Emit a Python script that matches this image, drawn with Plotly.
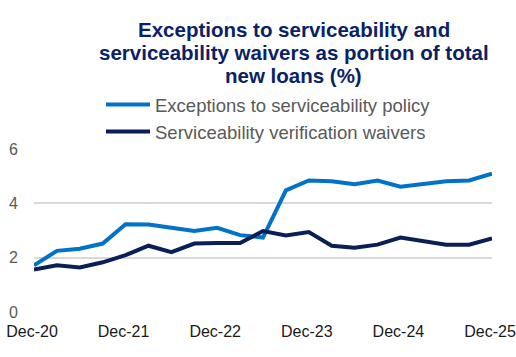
import plotly.graph_objects as go

quarters = [
    "Dec-20", "Mar-21", "Jun-21", "Sep-21", "Dec-21", "Mar-22", "Jun-22", "Sep-22",
    "Dec-22", "Mar-23", "Jun-23", "Sep-23", "Dec-23", "Mar-24", "Jun-24", "Sep-24",
    "Dec-24", "Mar-25", "Jun-25", "Sep-25", "Dec-25",
]
exceptions = [1.72, 2.25, 2.33, 2.52, 3.23, 3.22, 3.10, 2.98, 3.10, 2.83, 2.74,
              4.48, 4.84, 4.81, 4.70, 4.84, 4.61, 4.70, 4.81, 4.84, 5.09]
waivers = [1.56, 1.72, 1.64, 1.83, 2.09, 2.44, 2.20, 2.52, 2.54, 2.54, 2.98,
           2.82, 2.94, 2.44, 2.37, 2.48, 2.74, 2.61, 2.48, 2.48, 2.71]
tick_labels = ["Dec-20", "Dec-21", "Dec-22", "Dec-23", "Dec-24", "Dec-25"]
y_ticks = [0, 2, 4, 6]
title_lines = [
    "Exceptions to serviceability and",
    "serviceability waivers as portion of total",
    "new loans (%)",
]

FONT = "Liberation Sans, Arial, sans-serif"
W, H = 516, 357
ML, MR, MT, MB = 34, 24, 149, 45
plot_h = H - MT - MB
plot_w = W - ML - MR

fig = go.Figure()
fig.add_trace(go.Scatter(x=quarters, y=exceptions, mode="lines",
                         name="Exceptions to serviceability policy",
                         line=dict(color="#0072C9", width=4)))
fig.add_trace(go.Scatter(x=quarters, y=waivers, mode="lines",
                         name="Serviceability verification waivers",
                         line=dict(color="#0A1F55", width=4)))

# title lines (pixel centres converted to paper coordinates)
title_y_px = [29.5, 52.5, 75.5]
title_x_px = 293.5
for txt, ypx in zip(title_lines, title_y_px):
    fig.add_annotation(
        text="<b>" + txt + "</b>", showarrow=False,
        xref="paper", yref="paper",
        x=(title_x_px - ML) / plot_w, xanchor="center",
        y=(H - MB - ypx) / plot_h, yanchor="middle",
        font=dict(family=FONT, size=20.5, color="#0A2264"),
    )

fig.update_layout(
    width=W, height=H,
    margin=dict(l=ML, r=MR, t=MT, b=MB, autoexpand=False),
    paper_bgcolor="white", plot_bgcolor="white",
    font=dict(family=FONT, size=16, color="#595959"),
    legend=dict(
        x=(101 - ML) / plot_w, xanchor="left",
        y=(H - MB - 86) / plot_h, yanchor="top",
        font=dict(family=FONT, size=18.5, color="#595959"),
        bgcolor="rgba(0,0,0,0)", tracegroupgap=0, itemwidth=44,
    ),
    showlegend=True,
)
fig.update_xaxes(
    type="category", range=[0, len(quarters) - 1],
    tickvals=tick_labels, ticktext=tick_labels,
    tickfont=dict(family=FONT, size=16, color="#1a1a1a"),
    showgrid=False, zeroline=False, showline=False, ticks="",
    automargin=False, ticklabelstandoff=8, ticklabelshift=-2,
)
fig.update_yaxes(
    range=[0, 6], tickvals=y_ticks,
    tickfont=dict(family=FONT, size=16, color="#595959"),
    showgrid=True, gridcolor="#D9D9D9", gridwidth=1.5,
    zeroline=False, showline=False, ticks="", ticklabelstandoff=15,
    automargin=False,
)

fig.write_html(
    "out.html",
    config={"displayModeBar": False},
    post_script="document.body.style.margin='0';",
)
